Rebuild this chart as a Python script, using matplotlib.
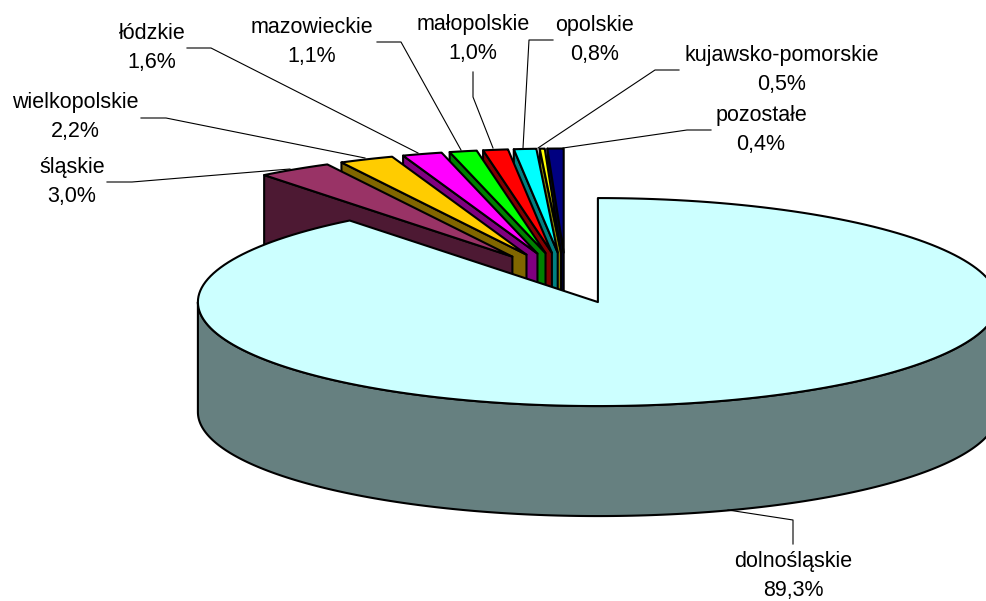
import numpy as np
import matplotlib
matplotlib.use("Agg")
import matplotlib.pyplot as plt
from matplotlib.patches import Polygon

plt.rcParams["font.family"] = ["Liberation Sans", "DejaVu Sans"]

regions = ["dolnośląskie", "śląskie", "wielkopolskie", "łódzkie", "mazowieckie",
           "małopolskie", "opolskie", "kujawsko-pomorskie", "pozostałe"]
labels = ["89,3%", "3,0%", "2,2%", "1,6%", "1,1%", "1,0%", "0,8%", "0,5%", "0,4%"]
# slice sizes as drawn, the last ones do not quite follow their labels in the picture
shares = [89.3, 3.0, 2.2, 1.6, 1.1, 1.0, 0.9, 0.2, 0.65]
top_colors = ["#CCFFFF", "#993366", "#FFCC00", "#FF00FF", "#00FF00",
              "#FF0000", "#00FFFF", "#FFFF00", "#000080"]
side_colors = ["#668080", "#4D1933", "#806600", "#800080", "#008000",
               "#800000", "#008080", "#808000", "#000040"]

label_pos = [(793, 576), (72, 182), (75, 117), (152, 48), (312, 42),
             (473, 39), (595, 40), (782, 70), (761, 130)]
leaders = [
    [(793, 544), (793, 520), (728, 510)],
    [(107, 182), (132, 182), (290, 169)],
    [(141, 118), (166, 118), (365, 158)],
    [(187, 48), (211, 48), (418, 153)],
    [(377, 42), (401, 42), (461, 150)],
    [(473, 72), (473, 97), (493, 148)],
    [(553, 40), (529, 40), (523, 148)],
    [(679, 70), (655, 70), (538, 148)],
    [(711, 130), (687, 130), (563, 148)],
]

CX, CY = 565.7, 278
RX, RY = 400, 104
DEPTH = 110
EXPLODE = 0.245


def rim(apex, deg):
    a = np.radians(deg)
    return apex[0] + RX * np.sin(a), apex[1] - RY * np.cos(a)


def arc(apex, start, end):
    return [rim(apex, d) for d in np.linspace(start, end, 200)]


def face(ax, pts, color):
    ax.add_patch(Polygon(pts, closed=True, facecolor=color, edgecolor="black",
                         linewidth=1.5, joinstyle="round"))


def drop(pts):
    return [(x, y + DEPTH) for x, y in pts]


fig = plt.figure(figsize=(9.86, 6.01), dpi=100)
ax = fig.add_axes([0, 0, 1, 1])
ax.set_xlim(0, 986)
ax.set_ylim(601, 0)
ax.axis("off")

edges = np.concatenate([[0], np.cumsum(shares)]) / sum(shares) * 360
apexes = []
for start, end in zip(edges[:-1], edges[1:]):
    mid = (start + end) / 2
    apexes.append(rim((CX, CY), mid))
apexes = [(CX + EXPLODE * (x - CX), CY + EXPLODE * (y - CY)) for x, y in apexes]

# back to front: the small slices from the right, the big one last
for i in range(len(shares) - 1, 0, -1):
    apex = apexes[i]
    p = rim(apex, edges[i])
    face(ax, [apex, p] + drop([p, apex]), side_colors[i])
    face(ax, [apex] + arc(apex, edges[i], edges[i + 1]), top_colors[i])

apex = apexes[0]
front = arc(apex, 90, 270)
face(ax, front + drop(front)[::-1], side_colors[0])
face(ax, [apex] + arc(apex, edges[0], edges[1]), top_colors[0])

for line in leaders:
    xs, ys = zip(*line)
    ax.plot(xs, ys, color="black", linewidth=0.8)

for name, pct, (x, y) in zip(regions, labels, label_pos):
    ax.text(x, y, f"{name}\n{pct}", ha="center", va="center", fontsize=15.5,
            linespacing=1.55, color="black")

fig.savefig("out.png", dpi=100)
